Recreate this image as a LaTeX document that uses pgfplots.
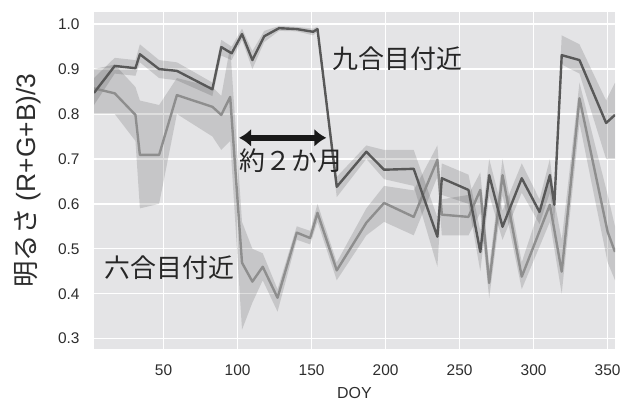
\documentclass[border=0pt]{standalone}
\usepackage{fontspec}
\setmainfont{Liberation Sans}
\newfontfamily\jp{Noto Sans CJK JP}
\usepackage{pgfplots}
\usepackage{pgfplotstable}
\pgfplotsset{compat=1.18}
\usepgfplotslibrary{fillbetween}
\usetikzlibrary{arrows.meta}

\definecolor{bg}{RGB}{228,228,230}
\definecolor{nineline}{RGB}{88,88,88}
\definecolor{sixline}{RGB}{142,142,142}
\definecolor{ticktext}{RGB}{45,45,45}

% 九合目付近: DOY, mean brightness, band lower, band upper
\pgfplotstableread{
x    m     lo    hi
3    0.847 0.820 0.880
17   0.907 0.890 0.925
31   0.902 0.885 0.920
34   0.933 0.915 0.955
47   0.900 0.880 0.920
59   0.896 0.875 0.915
83   0.855 0.840 0.870
89   0.949 0.930 0.965
96   0.935 0.920 0.950
103  0.978 0.965 0.990
110  0.920 0.900 0.940
118  0.973 0.960 0.985
128  0.991 0.985 0.996
140  0.989 0.984 0.994
151  0.983 0.975 0.990
154  0.989 0.983 0.995
167  0.638 0.615 0.660
187  0.716 0.700 0.730
199  0.676 0.655 0.720
219  0.678 0.640 0.720
235  0.527 0.460 0.570
238  0.657 0.620 0.690
256  0.631 0.600 0.665
264  0.493 0.450 0.540
270  0.664 0.620 0.700
279  0.549 0.520 0.585
292  0.657 0.625 0.690
304  0.582 0.555 0.610
311  0.664 0.625 0.700
314  0.598 0.560 0.620
319  0.931 0.910 0.975
331  0.920 0.890 0.955
349  0.780 0.700 0.830
355  0.798 0.700 0.870
}\ninedata

% 六合目付近
\pgfplotstableread{
x    m     lo    hi
3    0.857 0.800 0.900
17   0.846 0.800 0.910
31   0.798 0.740 0.860
34   0.709 0.590 0.830
47   0.709 0.600 0.820
59   0.842 0.800 0.880
83   0.816 0.750 0.860
89   0.798 0.720 0.840
95   0.838 0.740 0.950
103  0.469 0.320 0.560
110  0.427 0.380 0.500
117  0.460 0.430 0.490
127  0.391 0.360 0.410
140  0.536 0.520 0.550
149  0.524 0.510 0.540
154  0.580 0.560 0.600
167  0.452 0.430 0.470
187  0.558 0.530 0.590
199  0.602 0.560 0.640
219  0.571 0.530 0.630
235  0.698 0.660 0.730
238  0.576 0.530 0.610
256  0.571 0.530 0.620
264  0.631 0.580 0.670
270  0.424 0.390 0.460
279  0.664 0.620 0.700
292  0.438 0.410 0.470
311  0.598 0.560 0.660
319  0.449 0.400 0.520
331  0.835 0.780 0.870
350  0.538 0.470 0.620
355  0.493 0.430 0.550
}\sixdata

\begin{document}
\begin{tikzpicture}
\begin{axis}[
  at={(0,0)}, anchor=south west,
  width=521bp, height=337bp, scale only axis,
  xmin=3, xmax=355, ymin=0.277, ymax=1.027,
  axis background/.style={fill=bg},
  axis line style={draw=none},
  tick style={draw=none},
  grid=major,
  major grid style={white, line width=1.3pt},
  xtick={50,100,150,200,250,300,350},
  ytick={0.3,0.4,0.5,0.6,0.7,0.8,0.9,1.0},
  yticklabel style={/pgf/number format/fixed, /pgf/number format/fixed zerofill,
    /pgf/number format/precision=1, xshift=-11bp},
  /pgf/number format/assume math mode=true,
  ticklabel style={font=\fontsize{15.5}{16}\selectfont, text=ticktext},
  xticklabel style={yshift=-12bp},
  xlabel={DOY},
  xlabel style={at={(axis description cs:0.5,-0.13)}, anchor=center,
    font=\fontsize{16}{17}\selectfont, text=ticktext},
  ylabel={{\jp 明るさ} (R+G+B)/3},
  ylabel style={at={(axis description cs:-0.127,0.5)}, anchor=center,
    font=\fontsize{26.5}{27}\selectfont, text=ticktext},
  clip=true,
]
% confidence bands
\addplot[name path=sixlo, draw=none, forget plot] table[x=x, y=lo] {\sixdata};
\addplot[name path=sixhi, draw=none, forget plot] table[x=x, y=hi] {\sixdata};
\addplot[fill=black, fill opacity=0.13, draw=none, forget plot] fill between[of=sixlo and sixhi];
\addplot[name path=ninelo, draw=none, forget plot] table[x=x, y=lo] {\ninedata};
\addplot[name path=ninehi, draw=none, forget plot] table[x=x, y=hi] {\ninedata};
\addplot[fill=black, fill opacity=0.13, draw=none, forget plot] fill between[of=ninelo and ninehi];
% mean lines
\addplot[sixline, line width=2.4pt, line join=round] table[x=x, y=m] {\sixdata};
\addplot[nineline, line width=2.4pt, line join=round] table[x=x, y=m] {\ninedata};
% annotations
\node[font=\jp\fontsize{26}{27}\selectfont, text=black!85] at (axis cs:208,0.924) {九合目付近};
\node[font=\jp\fontsize{26}{27}\selectfont, text=black!85] at (axis cs:54,0.458) {六合目付近};
\node[font=\jp\fontsize{26}{27}\selectfont, text=black!85] at (axis cs:136.5,0.697) {約２か月};
\draw[black!90, line width=5.5bp, {Latex[length=12bp,width=18bp]}-{Latex[length=12bp,width=18bp]}] (axis cs:101,0.747) -- (axis cs:160,0.747);
\end{axis}
% page frame: plot box plus the margins for labels
\pgfresetboundingbox
\useasboundingbox (-94bp,-54bp) rectangle (538bp,349bp);
\end{tikzpicture}
\end{document}
